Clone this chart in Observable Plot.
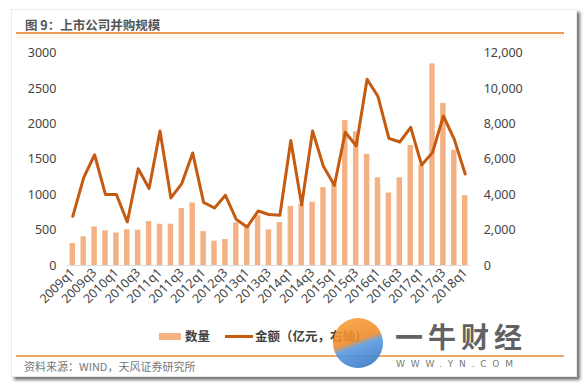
<!DOCTYPE html>
<html>
<head>
<meta charset="utf-8">
<script src="https://cdn.jsdelivr.net/npm/d3@7"></script>
<script src="https://cdn.jsdelivr.net/npm/@observablehq/plot@0.6"></script>
<style>
  html, body { margin: 0; padding: 0; background: #ffffff; }
  #wrap { position: relative; width: 584px; height: 388px; overflow: hidden; font-family: "Noto Sans", "Noto Sans CJK SC", sans-serif; }
  #card { position: absolute; left: 11px; top: 9px; width: 564px; height: 366px; background: #fff; border: 1px solid #ececec; box-shadow: 3px 3px 3px rgba(0,0,0,0.55); }
  #chart { position: absolute; left: 0; top: 0; }
  .abs { position: absolute; white-space: nowrap; }
  #title { left: 25px; top: 15px; font: bold 12.5px "Noto Sans CJK SC", sans-serif; color: #555; }
  #tline { left: 16px; top: 32px; width: 548px; height: 2px; background: #ee9a55; }
  #tline2 { left: 16px; top: 35px; width: 548px; height: 4px; background: #fdf6e6; }
  #fline { left: 16px; top: 355px; width: 548px; height: 1.5px; background: #f0a868; }
  #foot { left: 24px; top: 358px; font: 11px "Noto Sans CJK SC", sans-serif; color: #777; }
  .legtxt { font: bold 12.5px "Noto Sans CJK SC", sans-serif; color: #404040; top: 326px; }
  #wm1 { left: 395px; top: 322px; font: bold 28px/28px "Noto Sans CJK SC", sans-serif; color: rgba(70,70,70,0.85); letter-spacing: 5px; }
  #wm2 { left: 396px; top: 359px; font: 9px/10px "DejaVu Sans", sans-serif; color: rgba(90,90,90,0.85); letter-spacing: 5.8px; }
  #logo { left: 333px; top: 318px; width: 50px; height: 50px; border-radius: 50%;
          background: linear-gradient(160deg, #f6a53c 0%, #f08b2c 45%, #5a9ae0 55%, #2f6fc0 100%); opacity: 0.9; }
</style>
</head>
<body>
<div id="wrap">
  <div id="card"></div>
  <div class="abs" id="chart"></div>
  <div class="abs" id="title">图 9：上市公司并购规模</div>
  <div class="abs" id="tline"></div>
  <div class="abs" id="tline2"></div>
  <div class="abs" id="fline"></div>
  <div class="abs" id="foot">资料来源：WIND，天风证券研究所</div>
  <div class="abs" style="left:159px;top:333px;width:22px;height:7px;background:#f4b183;"></div>
  <div class="abs legtxt" style="left:185px;">数量</div>
  <div class="abs" style="left:225px;top:335px;width:28px;height:3px;background:#c55a11;"></div>
  <div class="abs legtxt" style="left:255px;">金额（亿元，右轴）</div>
  <div class="abs" id="logo"></div>
  <div class="abs" id="wm1">一牛财经</div>
  <div class="abs" id="wm2">WWW.YN.COM</div>
</div>
<script>
const quarters = ["2009q1","2009q2","2009q3","2009q4","2010q1","2010q2","2010q3","2010q4",
  "2011q1","2011q2","2011q3","2011q4","2012q1","2012q2","2012q3","2012q4",
  "2013q1","2013q2","2013q3","2013q4","2014q1","2014q2","2014q3","2014q4",
  "2015q1","2015q2","2015q3","2015q4","2016q1","2016q2","2016q3","2016q4",
  "2017q1","2017q2","2017q3","2017q4","2018q1"];
const counts = [310,405,545,490,460,505,498,620,583,583,804,884,479,343,367,602,
  545,705,503,608,835,860,895,1100,1150,2050,1890,1571,1240,1024,1240,1695,
  1420,2849,2290,1630,986];
const amounts = [2780,4970,6260,4010,4010,2460,5470,4350,7600,3820,4630,6360,3570,3250,3970,2600,
  2180,3080,2880,2840,7070,3420,7600,5590,4530,7530,6760,10530,9550,7190,6980,7810,
  5680,6380,8450,7130,5170];
const xTickLabels = ["2009q1","2009q3","2010q1","2010q3","2011q1","2011q3","2012q1","2012q3",
  "2013q1","2013q3","2014q1","2014q3","2015q1","2015q3","2016q1","2016q3","2017q1","2017q3","2018q1"];
const leftTicks = [0,500,1000,1500,2000,2500,3000];
const rightMax = 12000, leftMax = 3000;
const ratio = leftMax / rightMax;

const data = quarters.map((q, i) => ({q, count: counts[i], amount: amounts[i], scaled: amounts[i] * ratio}));

const chart = Plot.plot({
  width: 584,
  height: 388,
  marginTop: 52.7,
  marginBottom: 123,
  marginLeft: 66.85,
  marginRight: 113.85,
  style: {background: "transparent", fontFamily: "'Noto Sans', sans-serif", fontSize: "12px", color: "#444"},
  x: {type: "band", domain: quarters, paddingInner: 0.5, paddingOuter: 0.25},
  y: {domain: [0, leftMax]},
  marks: [
    Plot.barY(data, {x: "q", y: "count", fill: "#f4b183"}),
    Plot.ruleY([0], {stroke: "#d9dde6", strokeWidth: 1.2}),
    Plot.line(data, {x: "q", y: "scaled", stroke: "#c55a11", strokeWidth: 3, strokeLinejoin: "round"}),
    Plot.axisY({anchor: "left", ticks: leftTicks, tickSize: 0, tickPadding: 11, label: null, fontSize: 12.5,
      tickFormat: d => String(d)}),
    Plot.axisY({anchor: "right", ticks: leftTicks, tickSize: 0, tickPadding: 13, label: null, fontSize: 12.5,
      tickFormat: d => d3.format(",")(Math.round(d / ratio)), textAnchor: "start"}),
    Plot.axisX({ticks: xTickLabels, tickRotate: -45, tickSize: 0, tickPadding: 5, label: null, fontSize: 12.5})
  ]
});
document.getElementById("chart").appendChild(chart);
</script>
</body>
</html>
